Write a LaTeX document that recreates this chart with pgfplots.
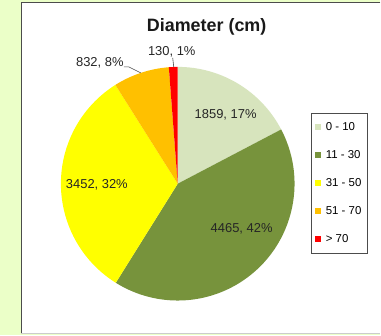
\documentclass[border=0pt]{standalone}
\usepackage{pgfplots}
\pgfplotsset{compat=1.18}
\usepackage{fontspec}
\setmainfont{Liberation Sans}
\definecolor{bgg}{RGB}{235,255,200}
\definecolor{cA}{RGB}{215,228,189}
\definecolor{cB}{RGB}{119,147,60}
\definecolor{cC}{RGB}{255,255,0}
\definecolor{cD}{RGB}{255,192,0}
\definecolor{cE}{RGB}{255,0,0}
\newcommand{\lbl}{\fontsize{13}{15}\selectfont}
\begin{document}
\begin{tikzpicture}
\begin{axis}[x=1bp,y=1bp,xmin=0,xmax=381,ymin=0,ymax=336,hide axis,clip=false,
 legend style={at={(axis cs:311,223)},anchor=north west, draw=black!70, line width=0.7bp,
   font=\fontsize{11.5}{13.5}\selectfont, row sep=15.5bp, inner xsep=4.5bp, inner ysep=8bp,
   nodes={inner sep=1.5bp},
   /tikz/every odd column/.append style={column sep=3bp}},
 legend cell align=left,
 legend image code/.code={\fill[#1] (0bp,-3bp) rectangle (6bp,3bp);},
]
% background and chart area
\fill[bgg] (axis cs:0,0) rectangle (axis cs:381,336);
\fill[white] (axis cs:21,1) rectangle (axis cs:381,334);
\draw[black!70, line width=1.2bp] (axis cs:381,333.5) -- (axis cs:21.5,333.5) -- (axis cs:21.5,1.5);
\draw[black!20, line width=1bp] (axis cs:21.5,1.5) -- (axis cs:381,1.5);
% pie slices (values: 1859, 4465, 3452, 832, 130; total 10738)
\fill[cA] (axis cs:178,152) -- ++(90:117bp) arc[start angle=90, delta angle={-1859/10738*360}, radius=117bp] -- cycle;
\fill[cB] (axis cs:178,152) -- ++({90-1859/10738*360}:117bp) arc[start angle={90-1859/10738*360}, delta angle={-4465/10738*360}, radius=117bp] -- cycle;
\fill[cC] (axis cs:178,152) -- ++({90-(1859+4465)/10738*360}:117bp) arc[start angle={90-(1859+4465)/10738*360}, delta angle={-3452/10738*360}, radius=117bp] -- cycle;
\fill[cD] (axis cs:178,152) -- ++({90-(1859+4465+3452)/10738*360}:117bp) arc[start angle={90-(1859+4465+3452)/10738*360}, delta angle={-832/10738*360}, radius=117bp] -- cycle;
\fill[cE] (axis cs:178,152) -- ++({90-(1859+4465+3452+832)/10738*360}:117bp) arc[start angle={90-(1859+4465+3452+832)/10738*360}, delta angle={-130/10738*360}, radius=117bp] -- cycle;
% title
\node[font=\bfseries\fontsize{18}{20}\selectfont, text=black!90] at (axis cs:207,309) {Diameter (cm)};
% data labels
\node[font=\lbl, text=black!85] at (axis cs:226,221) {1859, 17\%};
\node[font=\lbl, text=black!85] at (axis cs:242,107) {4465, 42\%};
\node[font=\lbl, text=black!85] at (axis cs:97,151) {3452, 32\%};
\node[font=\lbl, text=black!85] at (axis cs:100,273) {832, 8\%};
\node[font=\lbl, text=black!85] at (axis cs:172,284) {130, 1\%};
\draw[black!70, line width=0.6bp] (axis cs:124,269) -- (axis cs:129,269) -- (axis cs:141,263);
\draw[black!70, line width=0.6bp] (axis cs:173,278) -- (axis cs:174,269);
% legend
\addlegendimage{fill=cA, draw=none}\addlegendentry{0 - 10}
\addlegendimage{fill=cB, draw=none}\addlegendentry{11 - 30}
\addlegendimage{fill=cC, draw=none}\addlegendentry{31 - 50}
\addlegendimage{fill=cD, draw=none}\addlegendentry{51 - 70}
\addlegendimage{fill=cE, draw=none}\addlegendentry{> 70}
\end{axis}
\end{tikzpicture}
\end{document}
